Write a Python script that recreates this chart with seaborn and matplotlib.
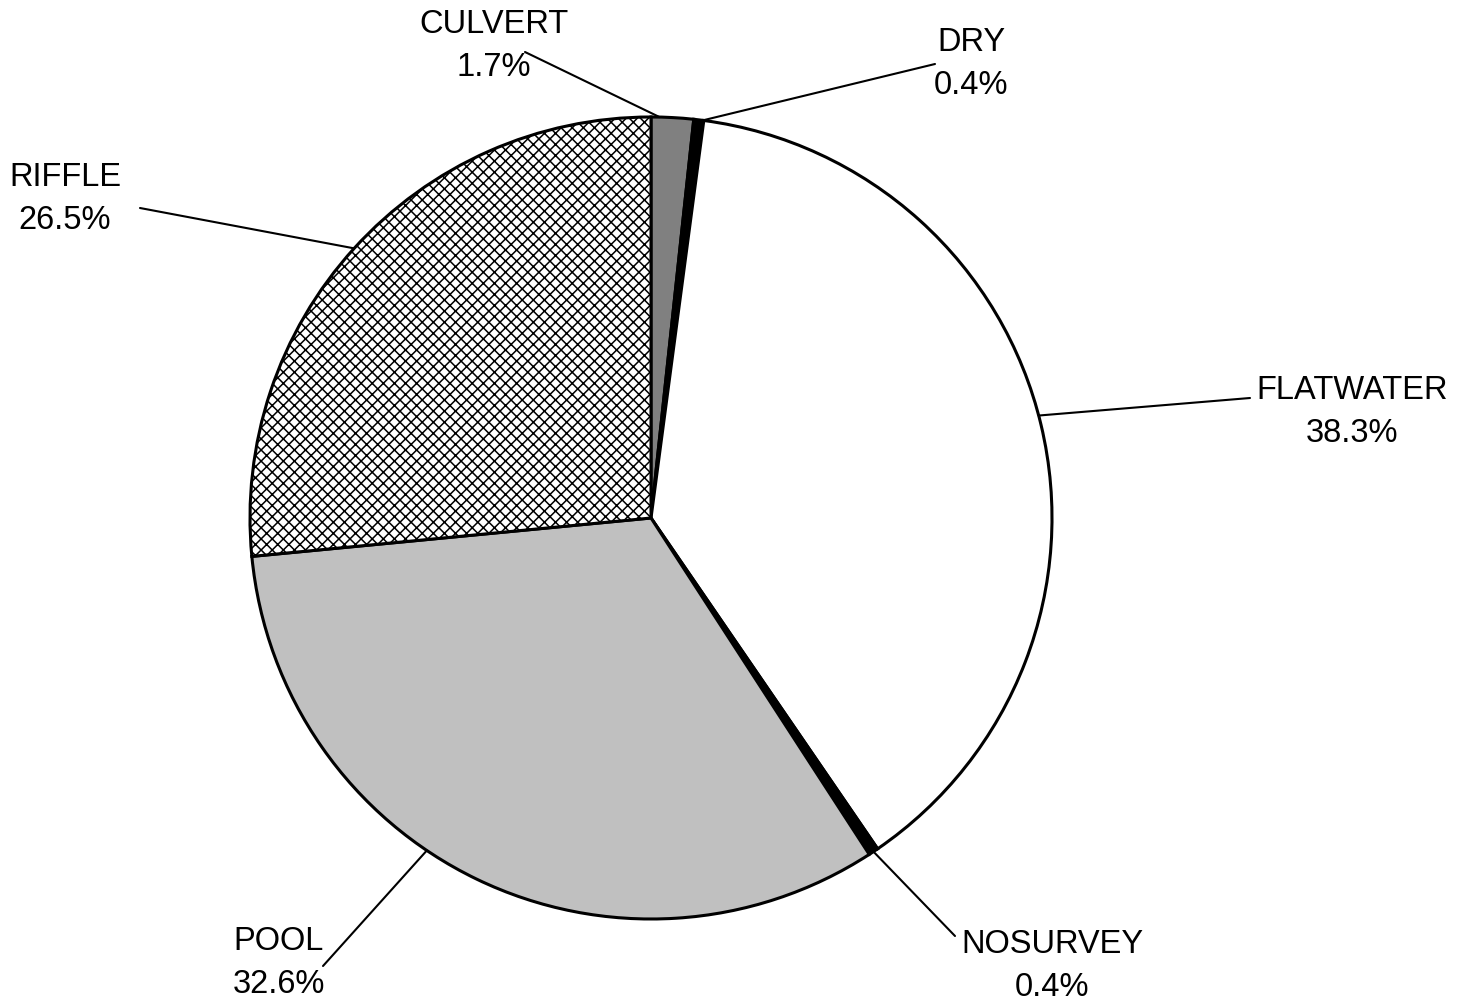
import numpy as np
import matplotlib
matplotlib.use("Agg")
import matplotlib.pyplot as plt
import seaborn as sns

# habitat share, clockwise from 12 o'clock
habitats = ["CULVERT", "DRY", "FLATWATER", "NOSURVEY", "POOL", "RIFFLE"]
percents = [1.7, 0.4, 38.3, 0.4, 32.6, 26.5]
fills = ["#808080", "#000000", "#ffffff", "#000000", "#c0c0c0", "#ffffff"]
hatches = [None, None, None, None, None, "xxx"]

# label centres and leader-line starts, figure pixels from top-left
label_pos = [(494, 46), (971, 64), (1352, 412), (1052, 966), (279, 963), (65, 199)]
leader_start = [(525, 53), (935, 65), (1250, 399), (955, 937), (323, 967), (140, 209)]
# where along each slice's arc the leader line lands (0 = start, 1 = end)
leader_frac = [0.2, 0.9, 0.49, 0.5, 0.57, 0.5]

sns.set_theme(style="white")
plt.rcParams["font.family"] = ["Liberation Sans", "DejaVu Sans"]
plt.rcParams["text.color"] = "black"
plt.rcParams["hatch.linewidth"] = 1.1

W, H = 1462, 1003
fig = plt.figure(figsize=(W / 100, H / 100), dpi=100)
ax = fig.add_axes([0, 0, 1, 1])

cx, cy, r = 651, H - 519, 401
wedges, _ = ax.pie(percents, colors=fills, startangle=90, counterclock=False,
                   center=(cx, cy), radius=r, frame=True,
                   wedgeprops=dict(edgecolor="black", linewidth=2.2))
ax.set_xlim(0, W)
ax.set_ylim(0, H)
ax.set_aspect("equal")
ax.axis("off")

for w, h in zip(wedges, hatches):
    if h:
        w.set_hatch(h)

total = sum(percents)
cum = np.cumsum([0] + percents)
for i, (name, p) in enumerate(zip(habitats, percents)):
    ang = (cum[i] + p * leader_frac[i]) / total * 2 * np.pi
    ex, ey = cx + r * np.sin(ang), cy + r * np.cos(ang)
    lx, ly = label_pos[i]
    ax.text(lx, H - ly, f"{name}\n{p}%", ha="center", va="center",
            fontsize=23.5, linespacing=1.5, color="black")
    sx, sy = leader_start[i]
    ax.plot([sx, ex], [H - sy, ey], color="black", linewidth=1.5)

fig.savefig("out.png", dpi=100)
